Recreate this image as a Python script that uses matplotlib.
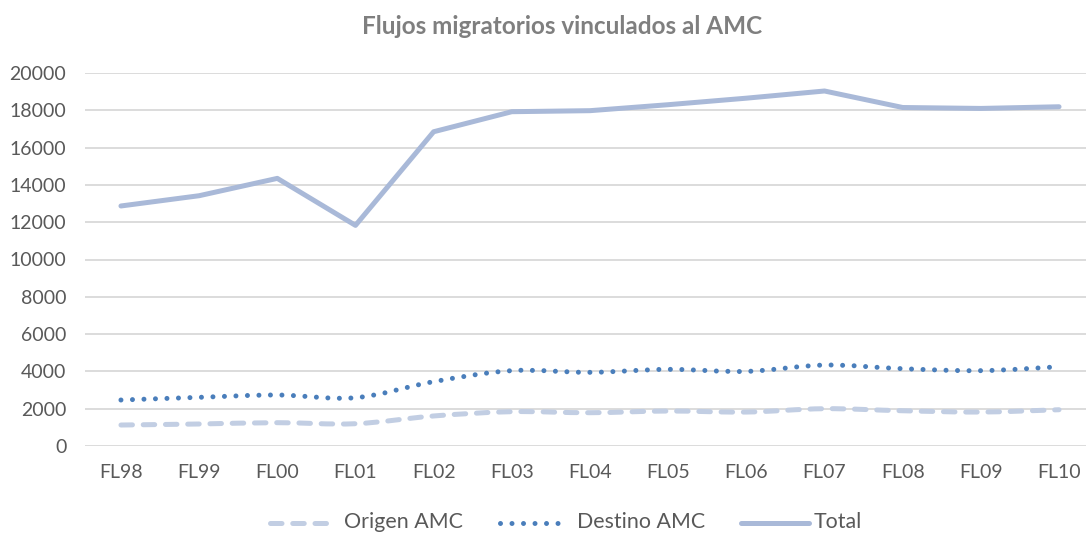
import numpy as np
import matplotlib
matplotlib.use("Agg")
import matplotlib.pyplot as plt
from matplotlib.path import Path
from matplotlib.patches import PathPatch
from matplotlib.lines import Line2D

categories = ["FL98", "FL99", "FL00", "FL01", "FL02", "FL03", "FL04",
              "FL05", "FL06", "FL07", "FL08", "FL09", "FL10"]
origen = [1125, 1180, 1250, 1195, 1610, 1840, 1785, 1875, 1820, 2000, 1890, 1820, 1945]
destino = [2466, 2610, 2735, 2590, 3450, 4040, 3950, 4110, 4000, 4340, 4145, 4040, 4250]
total = [12870, 13420, 14350, 11830, 16850, 17925, 17980, 18300, 18650, 19035, 18150, 18100, 18190]
yticks = [0, 2000, 4000, 6000, 8000, 10000, 12000, 14000, 16000, 18000, 20000]
series_names = ["Origen AMC", "Destino AMC", "Total"]

C_TOTAL = "#a9b9d8"
C_DEST = "#4a7ebb"
C_ORIG = "#c2cee3"
C_TEXT = "#595959"
C_GRID = "#d9d9d9"
FONT = "Lato"
W, H = 1086, 533

DASH = (0, (2.3, 2.15))
DOT = (0, (0.001, 2.3))


def smooth_path(xs, ys):
    """Bezier path through the points, like a spreadsheet 'smoothed line'."""
    pts = np.column_stack([xs, ys]).astype(float)
    n = len(pts)
    verts = [pts[0]]
    codes = [Path.MOVETO]
    for i in range(n - 1):
        p0 = pts[i - 1] if i > 0 else pts[i]
        p1 = pts[i]
        p2 = pts[i + 1]
        p3 = pts[i + 2] if i + 2 < n else pts[i + 1]
        c1 = p1 + (p2 - p0) / 6.0
        c2 = p2 - (p3 - p1) / 6.0
        verts += [c1, c2, p2]
        codes += [Path.CURVE4] * 3
    return Path(verts, codes)


fig = plt.figure(figsize=(W / 100, H / 100), dpi=100)
ax = fig.add_axes([85 / W, 1 - 446 / H, 1001 / W, (446 - 73) / H])

x = np.arange(len(categories))

ax.set_xlim(-0.46, 12.345)
ax.set_ylim(0, 20000)

for yv in yticks:
    ax.axhline(yv, color=C_GRID, lw=1.3, zorder=1)

lw = 3.6
ax.add_patch(PathPatch(smooth_path(x, origen), fill=False, edgecolor=C_ORIG, lw=lw,
                       linestyle=DASH, capstyle="round", joinstyle="round",
                       transform=ax.transData, zorder=3))
ax.add_patch(PathPatch(smooth_path(x, destino), fill=False, edgecolor=C_DEST, lw=lw,
                       linestyle=DOT, capstyle="round", joinstyle="round",
                       transform=ax.transData, zorder=3))
ax.plot(x, total, color=C_TOTAL, lw=lw, solid_capstyle="round",
        solid_joinstyle="round", zorder=3)

for s in ax.spines.values():
    s.set_visible(False)

ax.set_xticks(x)
ax.set_xticklabels(categories)
ax.set_yticks(yticks)
ax.set_yticklabels([str(v) for v in yticks])
ax.tick_params(axis="both", length=0, labelsize=14, labelcolor=C_TEXT)
ax.tick_params(axis="x", pad=13)
ax.tick_params(axis="y", pad=13.5)
for lab in ax.get_xticklabels() + ax.get_yticklabels():
    lab.set_fontfamily(FONT)

fig.text(0.518, 1 - 26 / H, "Flujos migratorios vinculados al AMC", ha="center",
         va="center", fontsize=17.5, fontweight="bold", color="#7f7f7f", family=FONT)

# legend row along the bottom edge
handle_y = 1 - 523 / H
text_y = 1 - 522 / H
leg_items = [
    (series_names[0], dict(color=C_ORIG, linestyle=DASH, dash_capstyle="round"), 270, 328, 344),
    (series_names[1], dict(color=C_DEST, linestyle=DOT, dash_capstyle="round"), 500, 560, 577),
    (series_names[2], dict(color=C_TOTAL, solid_capstyle="round"), 741, 809, 814),
]
for name, style, x0, x1, tx in leg_items:
    fig.add_artist(Line2D([x0 / W, x1 / W], [handle_y, handle_y], lw=lw,
                          transform=fig.transFigure, **style))
    fig.text(tx / W, text_y, name, ha="left", va="center", fontsize=15.4,
             color=C_TEXT, family=FONT)

fig.savefig("out.png", dpi=100)
